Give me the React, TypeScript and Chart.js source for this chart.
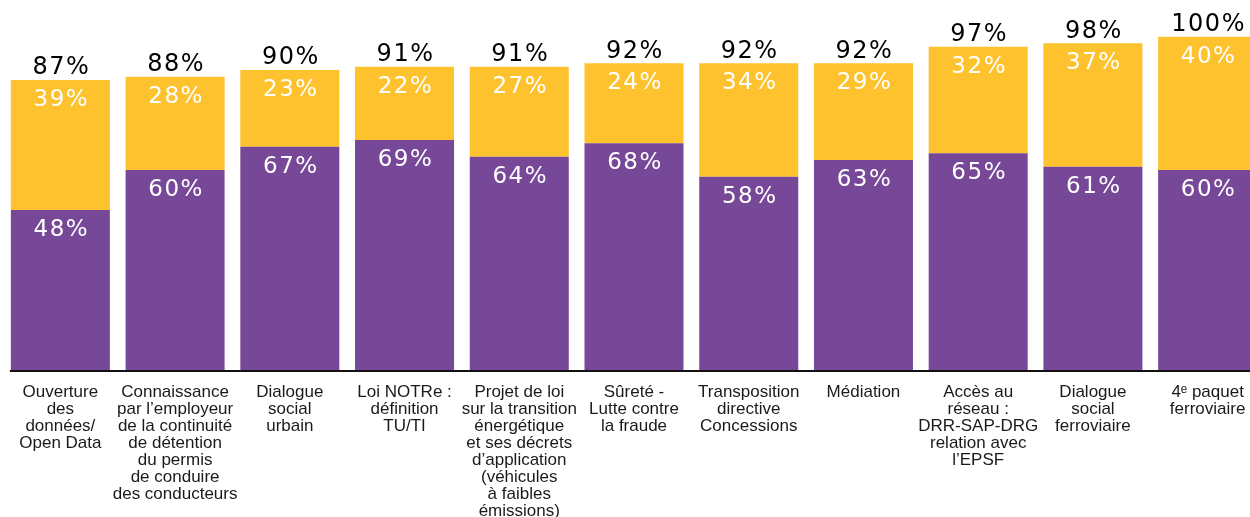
import React, { useEffect, useRef } from "react";
import { Chart, registerables } from "chart.js";

Chart.register(...registerables);

const categories: string[][] = [
  ["Ouverture", "des", "données/", "Open Data"],
  ["Connaissance", "par l’employeur", "de la continuité", "de détention", "du permis", "de conduire", "des conducteurs"],
  ["Dialogue", "social", "urbain"],
  ["Loi NOTRe :", "définition", "TU/TI"],
  ["Projet de loi", "sur la transition", "énergétique", "et ses décrets", "d’application", "(véhicules", "à faibles", "émissions)"],
  ["Sûreté -", "Lutte contre", "la fraude"],
  ["Transposition", "directive", "Concessions"],
  ["Médiation"],
  ["Accès au", "réseau :", "DRR-SAP-DRG", "relation avec", "l’EPSF"],
  ["Dialogue", "social", "ferroviaire"],
  ["4ᵉ paquet", "ferroviaire"],
];

const purpleValues: number[] = [48, 60, 67, 69, 64, 68, 58, 63, 65, 61, 60];
const yellowValues: number[] = [39, 28, 23, 22, 27, 24, 34, 29, 32, 37, 40];
const totalLabels: string[] = ["87%", "88%", "90%", "91%", "91%", "92%", "92%", "92%", "97%", "98%", "100%"];

const PURPLE = "#774897";
const YELLOW = "#FDC22E";

const overlayPlugin = {
  id: "overlay",
  afterDatasetsDraw(chart: any) {
    const ctx: CanvasRenderingContext2D = chart.ctx;
    const xScale = chart.scales.x;
    const area = chart.chartArea;
    const meta0 = chart.getDatasetMeta(0);
    const meta1 = chart.getDatasetMeta(1);
    ctx.save();
    // baseline
    const firstBar = meta0.data[0];
    const left = firstBar.x - firstBar.width / 2 - 1;
    ctx.strokeStyle = "#111";
    ctx.lineWidth = 2;
    ctx.beginPath();
    ctx.moveTo(left, area.bottom + 1);
    ctx.lineTo(area.right, area.bottom + 1);
    ctx.stroke();

    // value labels
    (ctx as any).letterSpacing = "1.5px";
    ctx.textAlign = "center";
    ctx.textBaseline = "middle";
    ctx.font = "23px 'DejaVu Sans'";
    meta0.data.forEach((bar: any, i: number) => {
      ctx.fillStyle = "#ffffff";
      ctx.fillText(purpleValues[i] + "%", bar.x + 1, bar.y + 20);
    });
    meta1.data.forEach((bar: any, i: number) => {
      ctx.font = "23px 'DejaVu Sans'";
      ctx.fillStyle = "#ffffff";
      ctx.fillText(yellowValues[i] + "%", bar.x + 1, bar.y + 20);
      ctx.font = "24px 'DejaVu Sans'";
      ctx.fillStyle = "#000000";
      ctx.fillText(totalLabels[i], bar.x + 1, bar.y - 12);
    });

    // category labels
    (ctx as any).letterSpacing = "0px";
    ctx.font = "17px 'Liberation Sans'";
    ctx.fillStyle = "#1a1a1a";
    ctx.textBaseline = "alphabetic";
    categories.forEach((lines, i) => {
      const x = xScale.getPixelForValue(i);
      lines.forEach((line, j) => {
        ctx.fillText(line, x, area.bottom + 27 + j * 17);
      });
    });
    ctx.restore();
  },
};

export default function App() {
  const canvasRef = useRef<HTMLCanvasElement | null>(null);

  useEffect(() => {
    if (!canvasRef.current) return;
    const chart = new Chart(canvasRef.current, {
      type: "bar",
      data: {
        labels: categories.map((c) => c.join(" ")),
        datasets: [
          {
            label: "A",
            data: purpleValues,
            backgroundColor: PURPLE,
            borderWidth: 0,
            barPercentage: 1,
            categoryPercentage: 0.863,
          },
          {
            label: "B",
            data: yellowValues,
            backgroundColor: YELLOW,
            borderWidth: 0,
            barPercentage: 1,
            categoryPercentage: 0.863,
          },
        ],
      },
      options: {
        animation: false,
        responsive: false,
        maintainAspectRatio: false,
        layout: { padding: { left: 3, right: 1, top: 0, bottom: 147 } },
        plugins: {
          legend: { display: false },
          tooltip: { enabled: false },
        },
        scales: {
          x: { stacked: true, display: false },
          y: { stacked: true, display: false, min: 0, max: 111 },
        },
      },
      plugins: [overlayPlugin],
    });
    return () => chart.destroy();
  }, []);

  return (
    <div
      style={{
        position: "absolute",
        left: 0,
        top: 0,
        width: 1250,
        height: 517,
        overflow: "hidden",
        background: "#fff",
      }}
    >
      <canvas ref={canvasRef} width={1266} height={517} style={{ display: "block" }} />
    </div>
  );
}
